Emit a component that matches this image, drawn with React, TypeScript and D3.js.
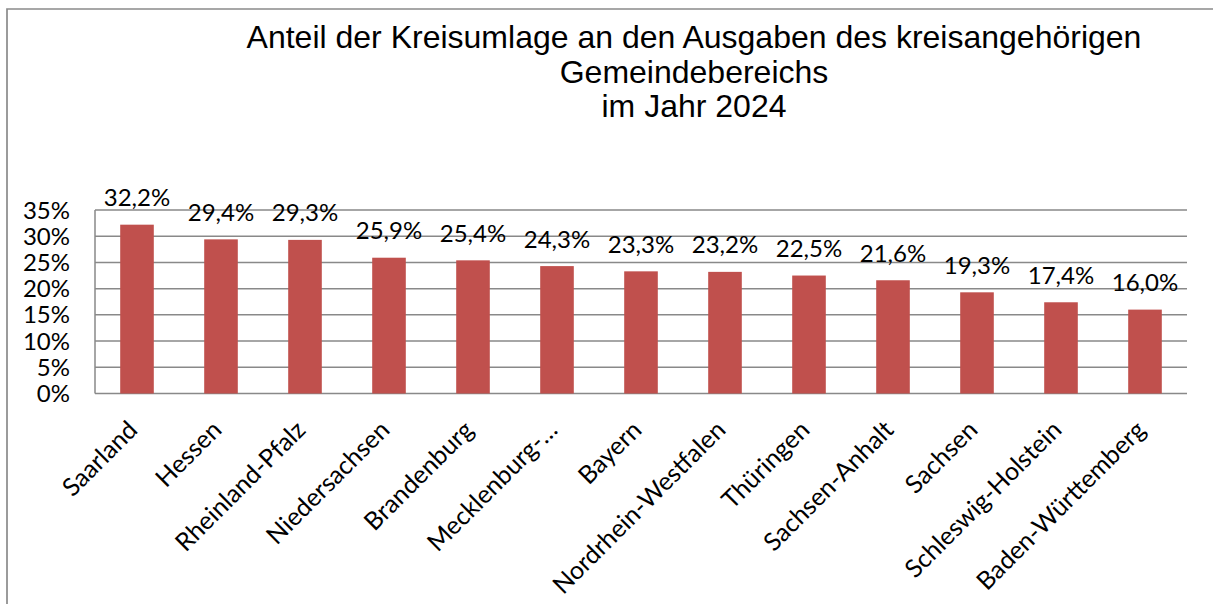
import * as d3 from 'd3'

const categories = [
  'Saarland',
  'Hessen',
  'Rheinland-Pfalz',
  'Niedersachsen',
  'Brandenburg',
  'Mecklenburg-…',
  'Bayern',
  'Nordrhein-Westfalen',
  'Thüringen',
  'Sachsen-Anhalt',
  'Sachsen',
  'Schleswig-Holstein',
  'Baden-Württemberg',
]
const values = [32.2, 29.4, 29.3, 25.9, 25.4, 24.3, 23.3, 23.2, 22.5, 21.6, 19.3, 17.4, 16.0]
const yTicks = [0, 5, 10, 15, 20, 25, 30, 35]
const titleLines = [
  'Anteil der Kreisumlage an den Ausgaben des kreisangehörigen',
  'Gemeindebereichs',
  'im Jahr 2024',
]

const W = 1213
const H = 604
const plot = { left: 95, right: 1187, top: 210, bottom: 393.5 }
const labelFont = 'Lato, Carlito, sans-serif'

export default function App() {
  const x = d3.scaleBand<string>().domain(categories).range([plot.left, plot.right])
  const y = d3.scaleLinear().domain([0, 35]).range([plot.bottom, plot.top])
  const barW = x.bandwidth() * 0.4
  const fmt = (v: number) => v.toFixed(1).replace('.', ',') + '%'

  return (
    <svg
      width={W}
      height={H}
      style={{ position: 'absolute', left: 0, top: 0, background: '#fff' }}
    >
      {/* outer chart border (only left and top edges are in view) */}
      <path d={`M7,${H} V9 H${W}`} fill="none" stroke="#8a8a8a" strokeWidth={1.7} />

      {/* title */}
      <text
        textAnchor="middle"
        fontFamily="'Liberation Sans', Arial, sans-serif"
        fontSize={32}
        fill="#000"
      >
        {titleLines.map((t, i) => (
          <tspan key={i} x={694} y={48 + i * 34.5}>
            {t}
          </tspan>
        ))}
      </text>

      {/* gridlines */}
      {yTicks.map(t => (
        <line
          key={t}
          x1={plot.left}
          x2={plot.right}
          y1={y(t)}
          y2={y(t)}
          stroke="#898989"
          strokeWidth={1.5}
        />
      ))}
      <line x1={plot.left} x2={plot.left} y1={plot.top} y2={plot.bottom} stroke="#898989" strokeWidth={1.5} />

      {/* y tick labels */}
      {yTicks.map(t => (
        <text
          key={t}
          x={70}
          y={y(t) + 8.5}
          textAnchor="end"
          fontFamily={labelFont}
          fontSize={24}
          fill="#000"
        >
          {t}%
        </text>
      ))}

      {/* bars */}
      {values.map((v, i) => {
        const cx = x(categories[i])! + x.bandwidth() / 2
        return (
          <rect
            key={i}
            x={cx - barW / 2}
            y={y(v)}
            width={barW}
            height={plot.bottom - y(v)}
            fill="#C0504D"
          />
        )
      })}

      {/* data labels */}
      {values.map((v, i) => {
        const cx = x(categories[i])! + x.bandwidth() / 2
        return (
          <text
            key={i}
            x={cx}
            y={y(v) - 18.5}
            textAnchor="middle"
            fontFamily={labelFont}
            fontSize={24}
            fill="#000"
          >
            {fmt(v)}
          </text>
        )
      })}

      {/* category labels */}
      {categories.map((c, i) => {
        const cx = x(c)! + x.bandwidth() / 2 + 2
        const ty = plot.bottom + 38
        return (
          <text
            key={c}
            x={cx}
            y={ty}
            textAnchor="end"
            transform={`rotate(-45,${cx},${ty})`}
            fontFamily={labelFont}
            fontSize={25}
            fill="#000"
          >
            {c}
          </text>
        )
      })}
    </svg>
  )
}
